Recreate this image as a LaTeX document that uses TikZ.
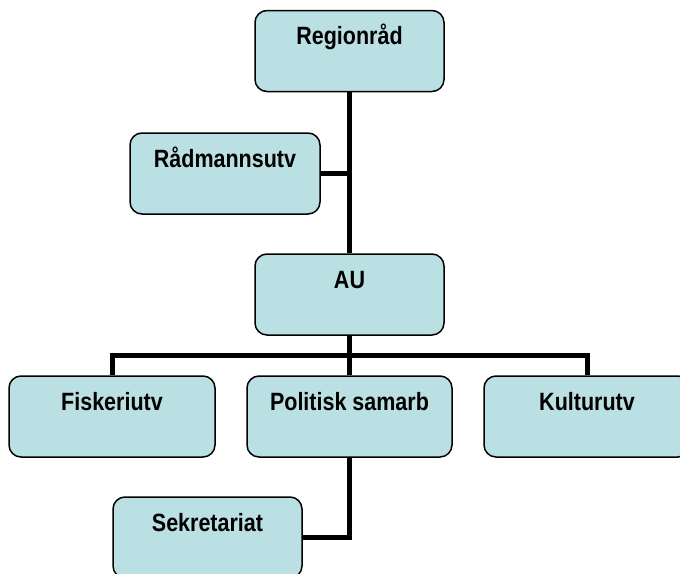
\documentclass[tikz,border=0pt]{standalone}
\usepackage{fontspec}
\setmainfont[FakeStretch=0.86]{Liberation Sans}
\usepackage{xcolor}
\usepackage{tikz}
\usetikzlibrary{positioning}
\definecolor{boxfill}{RGB}{187,224,227}
\tikzset{
unit/.style = { rectangle, draw = black, fill = boxfill, line width = 1.5pt, rounded corners = 12pt, minimum width = 189pt, text height = 34pt, text depth = 47pt, inner ysep = 0pt, font = \fontsize{25}{30}\selectfont\bfseries },
link/.style = { draw = black, line width = 5pt },
}

\begin{document}
\begin{tikzpicture}[x = 1pt, y = -1pt]
    \useasboundingbox (0, 0) rectangle (680, 573);
    \clip (0, 0) rectangle (680, 573);
    \node[unit] (reg) at (349.5, 51) {Regionråd};
    \node[unit, minimum width = 190pt] (rad) at (225, 173.5) {Rådmannsutv};
    \node[unit] (au) at (349.5, 294.5) {AU};
    \node[unit, minimum width = 206pt] (fisk) at (112, 416.5) {Fiskeriutv};
    \node[unit, minimum width = 205pt] (pol) at (349.5, 416.5) {Politisk samarb};
    \node[unit, minimum width = 206pt] (kult) at (587, 416.5) {Kulturutv};
    \node[unit] (sek) at (207.5, 537.5) {Sekretariat};
    \coordinate (bus) at (349.5, 355);
    \draw[link] (reg.south) -- (au.north);
    \draw[link] (rad.east) -- (rad.east -| reg.south);
    \draw[link] (au.south) -- (pol.north);
    \draw[link] (fisk.north) |- (bus) -| (kult.north);
    \draw[link] (pol.south) |- (sek.east);
\end{tikzpicture}
\end{document}
